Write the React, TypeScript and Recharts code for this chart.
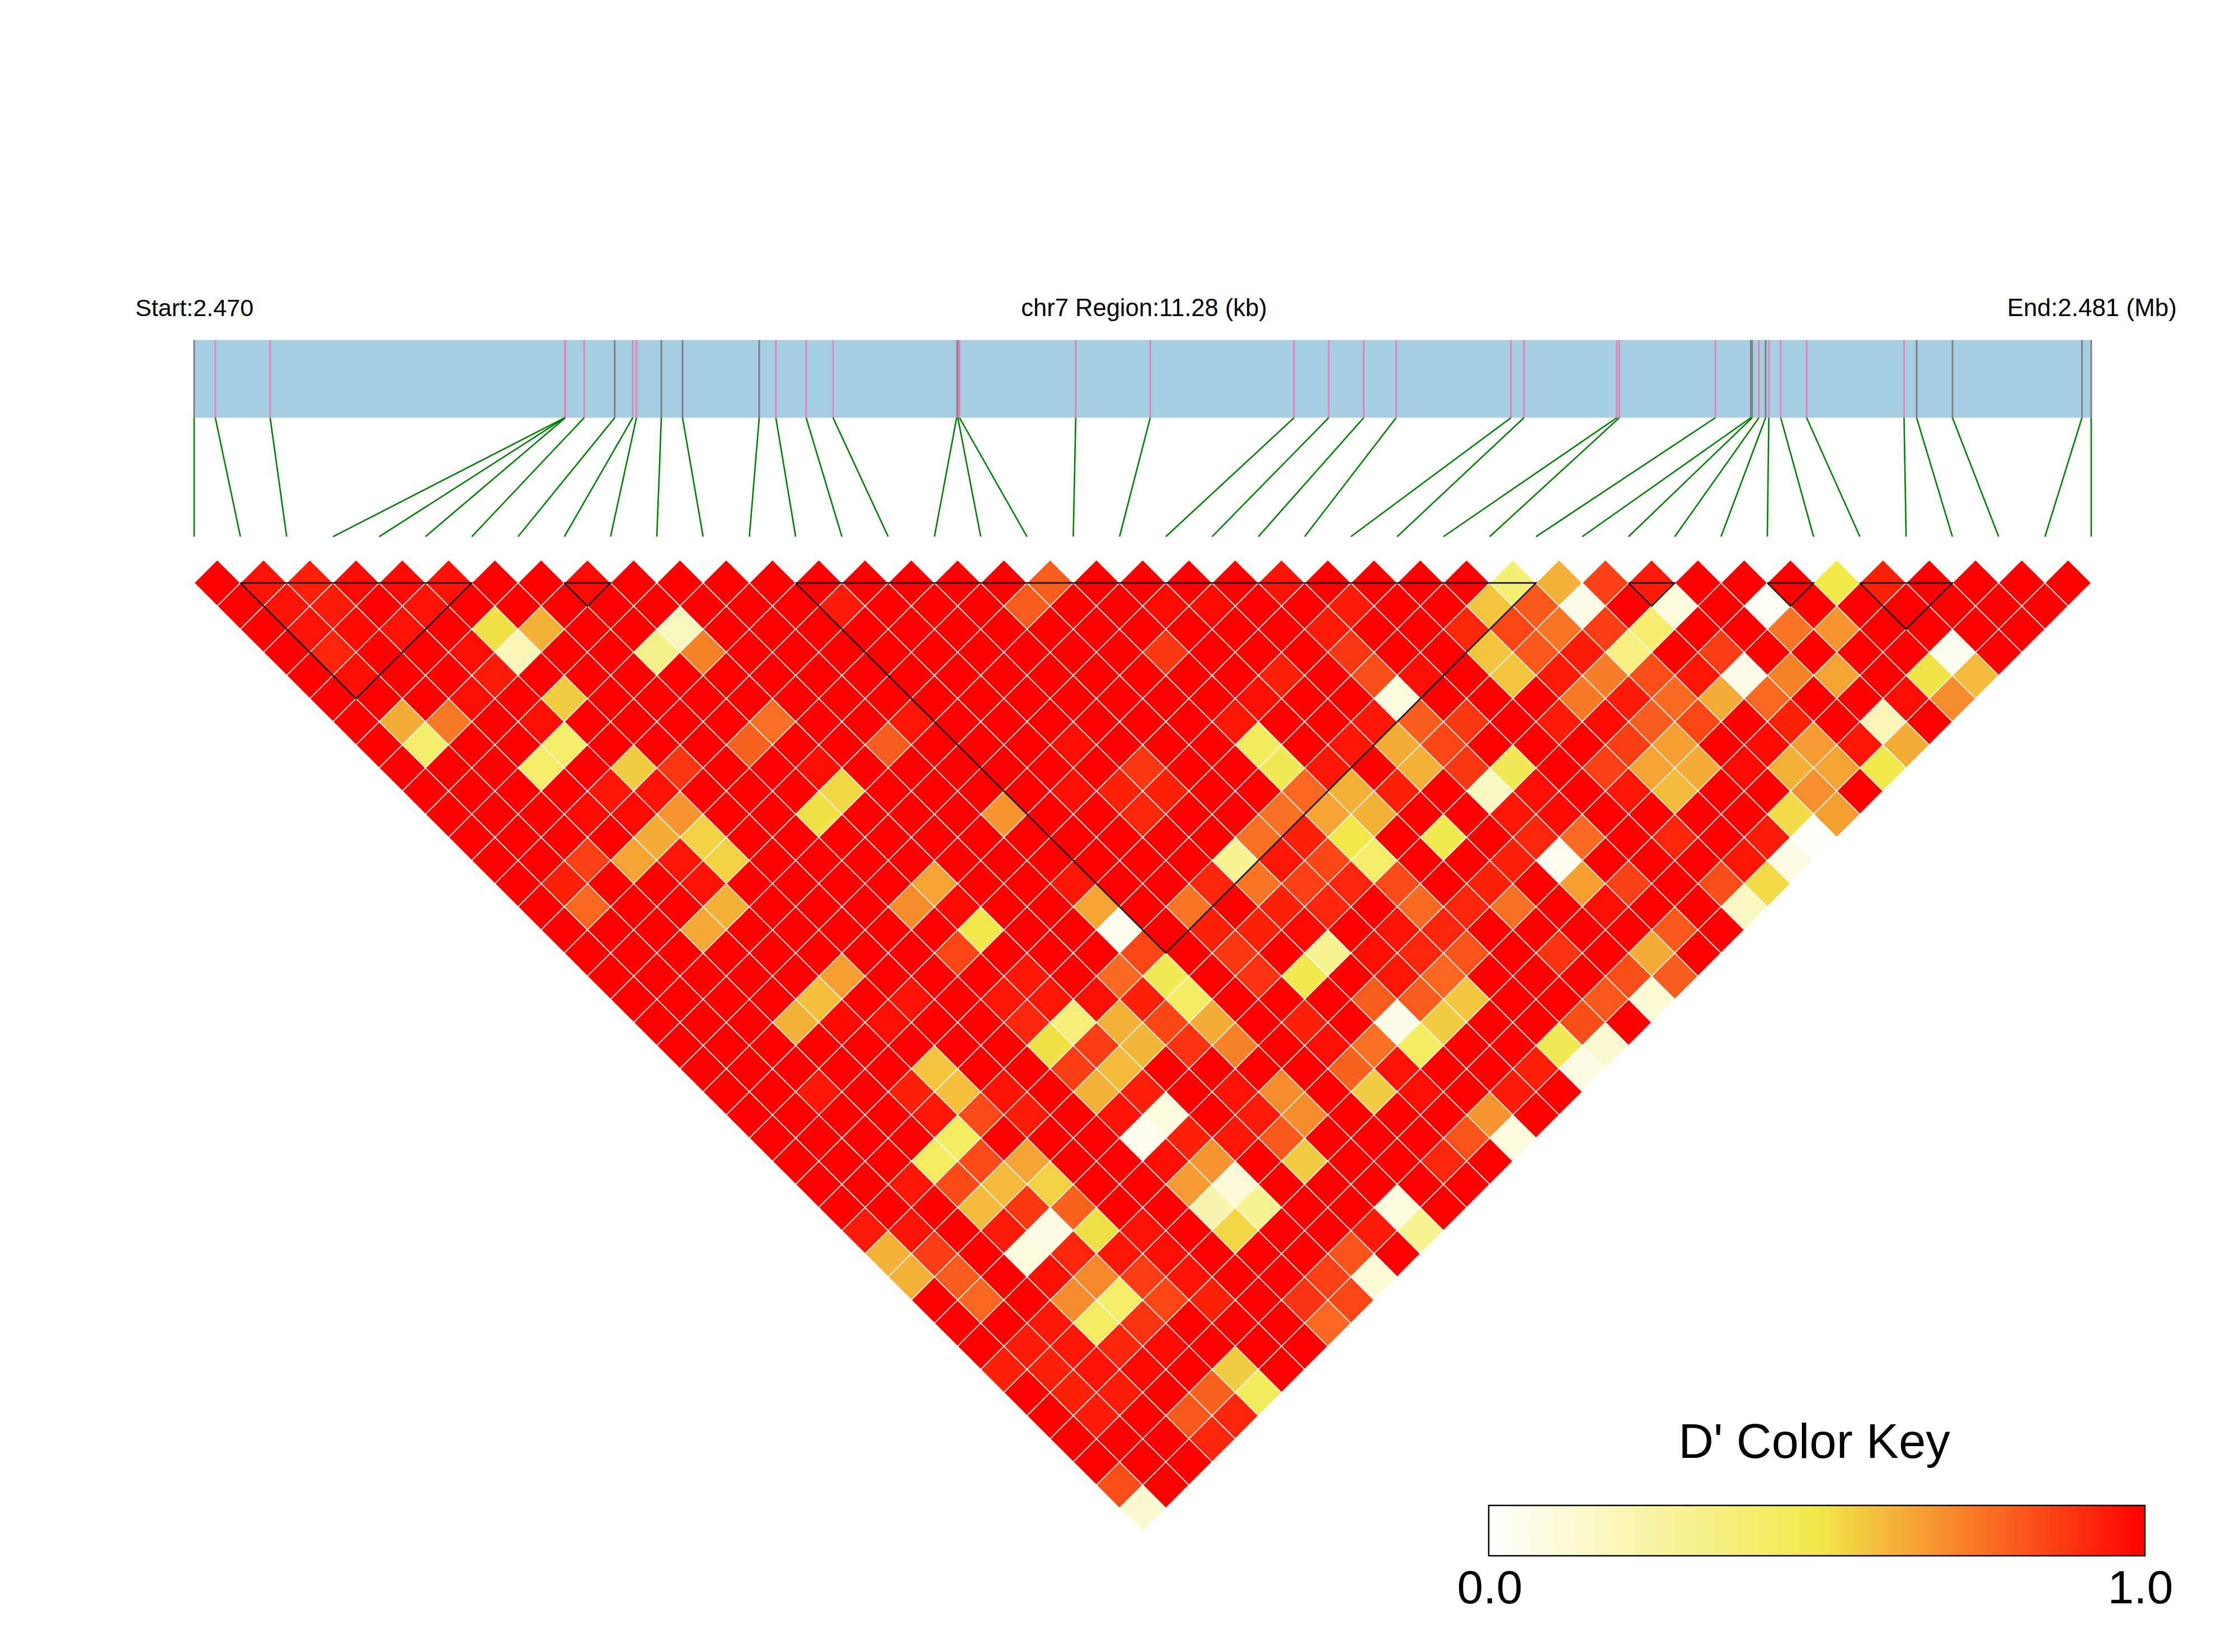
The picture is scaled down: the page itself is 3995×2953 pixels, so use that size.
import React from 'react';
import { ScatterChart, Scatter, XAxis, YAxis, ReferenceArea, ReferenceLine } from 'recharts';

const WIDTH = 3995;
const HEIGHT = 2953;
const SNP_PX = 82.707; // one SNP step across
const ROW_PX = 41.35; // one row of the triangle down
const REGION_KB = 11.28;

// SNP positions along the region, kb from the start
const snpKb = [
    0, 0.126, 0.452, 2.204, 2.205, 2.207, 2.319, 2.501, 2.608, 2.63, 2.778, 2.904, 3.36, 3.459,
    3.639, 3.799, 4.534, 4.541, 4.551, 5.242, 5.685, 6.54, 6.746, 6.954, 7.147, 7.83, 7.907, 8.459,
    8.474, 9.045, 9.256, 9.264, 9.304, 9.344, 9.363, 9.434, 9.588, 10.167, 10.242, 10.455, 11.225, 11.28,
];
// p = pink tick on the gene track, g = grey
const snpTick = 'gppppppgppgggppppgppppppppppppggpgppppgggg'.split('');

// D' by distance: row00 holds neighbours, row01 pairs one apart, ...
const row00 = [1, .96, .93, .98, .98, .96, 1, 1, .98, 1, 1, 1, 1, 1, 1, 1, 1, 1, .8, 1, 1, 1, 1, .96, 1, 1, 1, 1, .38, .62, .86, .94, 1, 1, 1, .5, .93, 1, 1, 1, 1];
const row01 = [1, .96, .94, 1, .96, 1, 1, 1, 1, 1, 1, 1, 1, .94, 1, 1, 1, .8, 1, 1, .98, .98, 1, 1, .94, 1, 1, .58, .81, .06, 1, .1, 1, .03, 1, 1, 1, 1, 1, 1];
const row02 = [1, .96, .98, .96, 1, .52, .62, 1, 1, .18, 1, 1, 1, 1, 1, 1, 1, 1, 1, 1, 1, 1, 1, .94, 1, 1, .92, .85, .75, .87, .4, 1, 1, .75, .68, 1, 1, 1, 1];
const row03 = [1, .92, 1, 1, .97, .2, 1, 1, .33, .72, 1, 1, 1, 1, 1, 1, 1, 1, 1, .88, 1, 1, 1, .88, 1, 1, .58, .81, .94, .35, 1, .87, 1, 1, 1, 1, .05, 1];
const row04 = [1, .97, 1, 1, .94, 1, 1, 1, 1, 1, 1, 1, 1, 1, 1, 1, 1, 1, 1, 1, 1, .93, 1, .83, .97, 1, .58, .94, .73, .83, .95, .06, .72, .65, 1, .51, .6];
const row05 = [1, 1, 1, .97, 1, .56, 1, 1, 1, 1, 1, 1, 1, 1, 1, 1, 1, 1, 1, 1, .97, 1, 1, .1, 1, 1, 1, .74, .94, .77, .63, .77, 1, 1, .97, .7];
const row06 = [1, .63, .74, 1, .97, 1, 1, 1, 1, .76, 1, 1, .95, 1, 1, 1, 1, 1, 1, .95, 1, 1, .95, .8, .88, 1, .94, .98, .8, .85, 1, .93, 1, .2, 1];
const row07 = [1, .4, 1, 1, .42, 1, 1, 1, .79, 1, 1, .8, 1, 1, 1, .97, 1, 1, 1, .45, 1, .95, .63, .85, 1, 1, 1, .87, .66, 1, .98, .67, .95, .63];
const row08 = [1, 1, 1, .42, 1, .56, .88, 1, 1, .97, 1, 1, 1, 1, 1, 1, .88, 1, 1, .47, .95, 1, .62, .88, .47, 1, .86, .65, .63, .98, .62, .65, .5];
const row09 = [1, 1, 1, 1, .95, .96, 1, 1, 1, .54, 1, 1, 1, 1, .97, .93, .93, 1, 1, .78, .62, .93, 1, .17, .97, 1, .95, .6, 1, 1, .69, 1];
const row10 = [1, 1, 1, .98, .98, .68, 1, 1, .52, 1, 1, 1, .68, 1, 1, .92, 1, 1, .76, .65, .62, 1, 1, .95, .98, 1, 1, 1, 1, .53, .66];
const row11 = [1, 1, 1, 1, .63, .55, 1, 1, 1, 1, 1, 1, 1, 1, 1, 1, 1, .76, .93, .5, 1, .48, 1, .92, .77, 1, .92, 1, .94, .02];
const row12 = [1, 1, .86, .65, .95, .55, 1, 1, 1, 1, 1, 1, 1, 1, 1, 1, .3, .95, .85, .42, 1, 1, .93, .05, 1, 1, 1, .95, .08];
const row13 = [1, .93, 1, 1, .96, 1, 1, 1, 1, .65, 1, 1, .95, 1, 1, .92, .75, .86, .92, .84, 1, .93, 1, .66, .86, 1, .83, .53];
const row14 = [1, .78, 1, 1, .62, 1, 1, 1, .7, .98, 1, 1, .65, 1, .75, 1, .93, .92, 1, .77, .92, .76, 1, .97, 1, 1, .17];
const row15 = [1, 1, 1, .64, 1, 1, 1, 1, 1, .5, 1, 1, .05, 1, .93, .93, .98, 1, .96, .92, 1, 1, 1, 1, .81, 1];
const row16 = [1, 1, 1, 1, 1, 1, 1, 1, .85, 1, 1, 1, .85, 1, .88, 1, .3, .97, .92, .82, 1, .89, 1, .63, 1];
const row17 = [1, 1, 1, 1, 1, .66, 1, 1, 1, .95, 1, .77, .47, 1, .89, .49, 1, .95, .78, 1, 1, 1, .83, .8];
const row18 = [1, 1, 1, 1, .59, 1, .96, 1, .95, .95, .97, .93, .43, 1, 1, 1, .8, .8, .57, 1, 1, .81, .12];
const row19 = [1, 1, 1, .62, .98, .97, 1, 1, .92, .37, .62, .85, .63, 1, .93, 1, .07, .56, 1, 1, .83, 1];
const row20 = [1, 1, 1, 1, 1, 1, 1, 1, .52, .87, .61, .89, .72, 1, .97, .76, .44, 1, 1, .47, .13];
const row21 = [1, 1, 1, 1, 1, .58, 1, 1, .87, .6, 1, 1, 1, 1, .79, .96, 1, 1, .93, .08];
const row22 = [1, 1, .95, 1, .93, .59, .96, 1, .62, .93, 1, .96, .7, 1, .56, .97, 1, .94, 1];
const row23 = [1, 1, 1, 1, .95, .84, .94, 1, .96, .1, 1, .94, .7, 1, 1, 1, .68, 1];
const row24 = [1, 1, 1, 1, .44, 1, 1, 1, .05, .93, .95, .81, 1, 1, 1, .82, .1];
const row25 = [1, 1, 1, .44, .84, .65, 1, 1, .97, .68, 1, .56, 1, 1, .92, 1];
const row26 = [1, 1, .95, .84, .6, .55, 1, 1, .67, .11, 1, 1, 1, 1, 1];
const row27 = [1, 1, 1, .6, .88, .79, 1, 1, .22, .3, 1, 1, .1, 1];
const row28 = [.94, .96, 1, .94, .08, .52, .96, 1, .54, 1, 1, .94, .3];
const row29 = [.62, .87, 1, .1, .92, .95, .97, 1, 1, 1, .82, 1];
const row30 = [.62, .8, 1, .97, .71, .87, .96, 1, 1, .86, .12];
const row31 = [1, .78, 1, .7, .42, .85, .93, 1, .89, .85];
const row32 = [1, 1, .95, .43, .89, 1, 1, 1, .78];
const row33 = [1, .94, .95, .92, .98, 1, 1, 1];
const row34 = [.93, .93, .96, .98, 1, .56, 1];
const row35 = [1, .93, .94, 1, .79, .45];
const row36 = [1, .94, 1, .81, .92];
const row37 = [1, 1, 1, .92];
const row38 = [1, 1, 1];
const row39 = [.83, 1];
const row40 = [.13];
const rows = [
    row00, row01, row02, row03, row04, row05, row06, row07, row08, row09, row10,
    row11, row12, row13, row14, row15, row16, row17, row18, row19, row20,
    row21, row22, row23, row24, row25, row26, row27, row28, row29, row30,
    row31, row32, row33, row34, row35, row36, row37, row38, row39, row40,
];

// LD blocks, first and last SNP
const blockFrom = [1, 8, 13, 31, 34, 36];
const blockTo = [6, 9, 29, 32, 35, 38];

// colour key ends
const keyEnds = [0, 1];

// gene track, in rows above the top row of the triangle
const TRACK_TOP = -10.5;
const TRACK_BOTTOM = -7.14;
const LINK_BOTTOM = -2;

const WHITE = [255, 255, 255];
const YELLOW = [241, 233, 74];
const RED = [255, 0, 0];

const mix = (a: number[], b: number[], t: number) =>
    `rgb(${a.map((v, k) => Math.round(v + (b[k] - v) * t)).join(',')})`;
const dColor = (v: number) => (v < 0.5 ? mix(WHITE, YELLOW, v / 0.5) : mix(YELLOW, RED, (v - 0.5) / 0.5));

const cells = rows.flatMap((row, r) =>
    row.map((value, c) => ({ x: c + (r + 1) / 2, y: r, value })),
);
const kbToSnp = (kb: number) => (kb / REGION_KB) * rows.length;

const Diamond = (props: any) => {
    const { cx, cy, payload } = props;
    const d = `M${cx - SNP_PX / 2},${cy}L${cx},${cy - ROW_PX}L${cx + SNP_PX / 2},${cy}L${cx},${cy + ROW_PX}Z`;
    return <path d={d} fill={dColor(payload.value)} stroke="#fff" strokeWidth={1.6} />;
};
const NoDot = () => <g />;

const font = 'Liberation Sans, Arial, sans-serif';

const KeyTick = (props: any) => {
    const { x, payload } = props;
    // the 1.0 sits a little inside the end of the bar
    return (
        <text x={x + (payload.value === 1 ? -8 : 2)} y={186} fontFamily={font} fontSize={84} textAnchor="middle" fill="#000">
            {payload.value.toFixed(1)}
        </text>
    );
};

const App: React.FC = () => {
    return (
        <div style={{ position: 'absolute', left: 0, top: 0, width: WIDTH, height: HEIGHT, background: '#fff' }}>
            <div style={{ position: 'absolute', left: 0, top: 0 }}>
                <ScatterChart width={WIDTH} height={HEIGHT} margin={{ top: 0, right: 0, bottom: 0, left: 0 }}>
                    <XAxis type="number" dataKey="x" hide allowDataOverflow domain={[-347 / SNP_PX, (WIDTH - 347) / SNP_PX]} />
                    <YAxis type="number" dataKey="y" hide reversed allowDataOverflow domain={[-1042 / ROW_PX, (HEIGHT - 1042) / ROW_PX]} />
                    <ReferenceArea x1={0} x2={rows.length} y1={TRACK_TOP} y2={TRACK_BOTTOM} fill="#a6cee3" fillOpacity={1} stroke="none" />
                    {snpKb.map((kb, i) => (
                        <ReferenceLine
                            key={`tick${i}`}
                            segment={[{ x: kbToSnp(kb), y: TRACK_TOP }, { x: kbToSnp(kb), y: TRACK_BOTTOM }]}
                            stroke={snpTick[i] === 'p' ? '#e283bb' : '#808080'}
                            strokeWidth={3}
                        />
                    ))}
                    {snpKb.map((kb, i) => (
                        <ReferenceLine
                            key={`link${i}`}
                            segment={[{ x: kbToSnp(kb), y: TRACK_BOTTOM }, { x: i, y: LINK_BOTTOM }]}
                            stroke="#008000"
                            strokeWidth={2.6}
                        />
                    ))}
                    <Scatter data={cells} shape={<Diamond />} isAnimationActive={false} />
                    {blockFrom.map((from, b) => {
                        const to = blockTo[b];
                        const outline = [
                            { x: from, y: 0 },
                            { x: to, y: 0 },
                            { x: (from + to) / 2, y: to - from },
                            { x: from, y: 0 },
                        ];
                        return (
                            <Scatter
                                key={`block${b}`}
                                data={outline}
                                line={{ stroke: '#000', strokeWidth: 2.4 }}
                                shape={<NoDot />}
                                isAnimationActive={false}
                            />
                        );
                    })}
                    <text x={242} y={565} fontFamily={font} fontSize={43.2}>Start:2.470</text>
                    <text x={2045} y={565} fontFamily={font} fontSize={43.5} textAnchor="middle">chr7 Region:11.28 (kb)</text>
                    <text x={3891} y={565} fontFamily={font} fontSize={44} textAnchor="end">End:2.481 (Mb)</text>
                    <text x={3243} y={2606} fontFamily={font} fontSize={87} textAnchor="middle">D' Color Key</text>
                </ScatterChart>
            </div>
            {/* colour key */}
            <div style={{ position: 'absolute', left: 2400, top: 2680 }}>
                <ScatterChart width={1595} height={240} margin={{ top: 11, right: 161, bottom: 0, left: 261 }}>
                    <defs>
                        <linearGradient id="keyRamp" x1="0" y1="0" x2="1" y2="0">
                            <stop offset="0%" stopColor={dColor(0)} />
                            <stop offset="50%" stopColor={dColor(0.5)} />
                            <stop offset="100%" stopColor={dColor(1)} />
                        </linearGradient>
                    </defs>
                    <XAxis
                        type="number"
                        dataKey="x"
                        domain={[0, 1]}
                        ticks={keyEnds}
                        height={139}
                        axisLine={false}
                        tickLine={false}
                        interval={0}
                        tick={<KeyTick />}
                    />
                    <YAxis type="number" dataKey="y" hide domain={[0, 1]} />
                    <ReferenceArea x1={0} x2={1} y1={0} y2={1} fill="url(#keyRamp)" fillOpacity={1} stroke="#000" strokeWidth={2.5} />
                    <Scatter data={keyEnds.map((x) => ({ x, y: x }))} shape={<NoDot />} isAnimationActive={false} />
                </ScatterChart>
            </div>
        </div>
    );
};

export default App;
